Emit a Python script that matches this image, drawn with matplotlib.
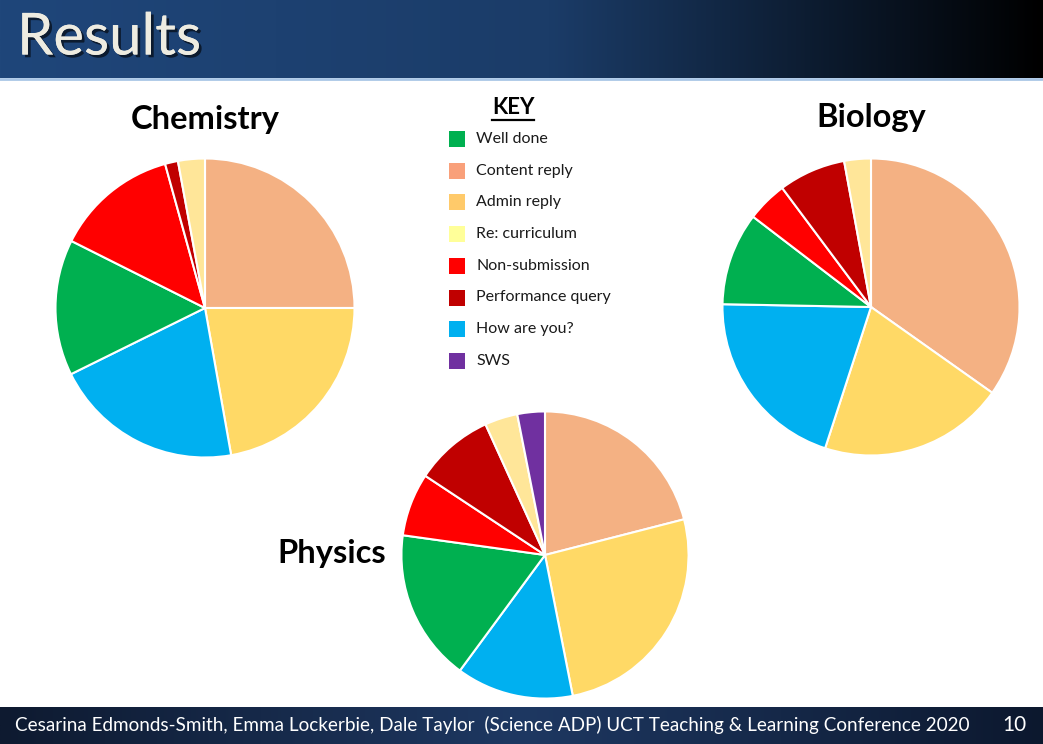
import numpy as np
import matplotlib
matplotlib.use("Agg")
from matplotlib import pyplot as plt
from matplotlib.patches import Rectangle
import matplotlib.patheffects as pe

W, H = 1043, 744

categories = ["Content reply", "Admin reply", "How are you?", "Well done",
              "Non-submission", "Performance query", "Re: curriculum", "SWS"]
chemistry = [25.0, 22.2, 20.5, 14.7, 13.3, 1.4, 2.9, 0.0]
biology = [34.8, 20.2, 20.3, 10.1, 4.4, 7.3, 2.9, 0.0]
physics = [21.0, 25.9, 13.2, 17.1, 7.1, 8.9, 3.7, 3.1]

pie_colors = ["#F4B183", "#FFD966", "#00B0F0", "#00B050",
              "#FF0000", "#C00000", "#FFE699", "#7030A0"]

key_labels = ["Well done", "Content reply", "Admin reply", "Re: curriculum",
              "Non-submission", "Performance query", "How are you?", "SWS"]
key_colors = ["#00B050", "#F9A07A", "#FFCA6A", "#FFFF99",
              "#FF0000", "#C00000", "#00B0F0", "#7030A0"]

footer_text = "Cesarina Edmonds-Smith, Emma Lockerbie, Dale Taylor  (Science ADP) UCT Teaching & Learning Conference 2020"

fig = plt.figure(figsize=(W / 100, H / 100), dpi=100)
fig.patch.set_facecolor("white")

bg = fig.add_axes([0, 0, 1, 1])
bg.set_xlim(0, W)
bg.set_ylim(H, 0)
bg.axis("off")

# header band gradient
xs = np.linspace(0, W, 400)
r = np.interp(xs, [0, 550, 1043], [31, 27, 0])
g = np.interp(xs, [0, 550, 1043], [70, 60, 0])
b = np.interp(xs, [0, 550, 1043], [122, 104, 0])
head = np.dstack([r, g, b])[0][None, :, :] / 255.0
bg.imshow(head, extent=[0, W, 78, 0], aspect="auto", zorder=0)
bg.plot([0, W], [79, 79], color="#A9C6E6", lw=2, zorder=1)

# footer band gradient
r = np.interp(xs, [0, 520, 1043], [14, 30, 12])
g = np.interp(xs, [0, 520, 1043], [26, 56, 24])
b = np.interp(xs, [0, 520, 1043], [48, 98, 46])
foot = np.dstack([r, g, b])[0][None, :, :] / 255.0
bg.imshow(foot, extent=[0, W, H, 707], aspect="auto", zorder=0)

renderer = fig.canvas.get_renderer()


def fit_width(txt, target):
    # shrink the font so the text spans the same width as on the slide
    ext = txt.get_window_extent(renderer=renderer)
    txt.set_fontsize(txt.get_fontsize() * target / ext.width)


title = bg.text(17, 38, "Results", fontsize=40, color="#EEECE1", va="center", ha="left",
                family="Lato",
                path_effects=[pe.withSimplePatchShadow(offset=(2, -2), shadow_rgbFace="black", alpha=0.6),
                              pe.Normal()])
fit_width(title, 184)

ft = bg.text(15, 725, footer_text, fontsize=14, color="white", va="center", ha="left",
             family="Lato")
fit_width(ft, 953)
bg.text(1014, 725, "10", fontsize=ft.get_fontsize() * 1.1, color="white", va="center",
        ha="center", family="Lato")

# pie titles
bg.text(205, 119, "Chemistry", fontsize=23.5, fontweight="bold", family="Lato",
        ha="center", va="center")
bg.text(871, 117, "Biology", fontsize=23.5, fontweight="bold", family="Lato",
        ha="center", va="center")
bg.text(332, 554, "Physics", fontsize=23.5, fontweight="bold", family="Lato",
        ha="center", va="center")

# key
bg.text(513, 108, "KEY", fontsize=16, fontweight="bold", family="Lato",
        ha="center", va="center")
bg.plot([492, 534], [120, 120], color="black", lw=1.6)
for i, (lab, col) in enumerate(zip(key_labels, key_colors)):
    y = 139 + i * 31.7
    bg.add_patch(Rectangle((449, y - 8), 16, 16, facecolor=col, edgecolor="none"))
    bg.text(476, y, lab, fontsize=11.5, family="Lato", ha="left", va="center",
            color="#1a1a1a")


def draw_pie(vals, cx, cy, rad):
    ax = fig.add_axes([(cx - rad) / W, (H - cy - rad) / H, 2 * rad / W, 2 * rad / H])
    vals = np.array(vals)
    keep = vals > 0
    ax.pie(vals[keep], colors=np.array(pie_colors)[keep], startangle=90,
           counterclock=False, wedgeprops=dict(edgecolor="white", linewidth=1.5))
    ax.set_xlim(-1.01, 1.01)
    ax.set_ylim(-1.01, 1.01)
    ax.axis("off")


draw_pie(chemistry, 205, 308, 151)
draw_pie(biology, 871, 307, 150)
draw_pie(physics, 545, 555, 145)

fig.savefig("out.png", dpi=100)
